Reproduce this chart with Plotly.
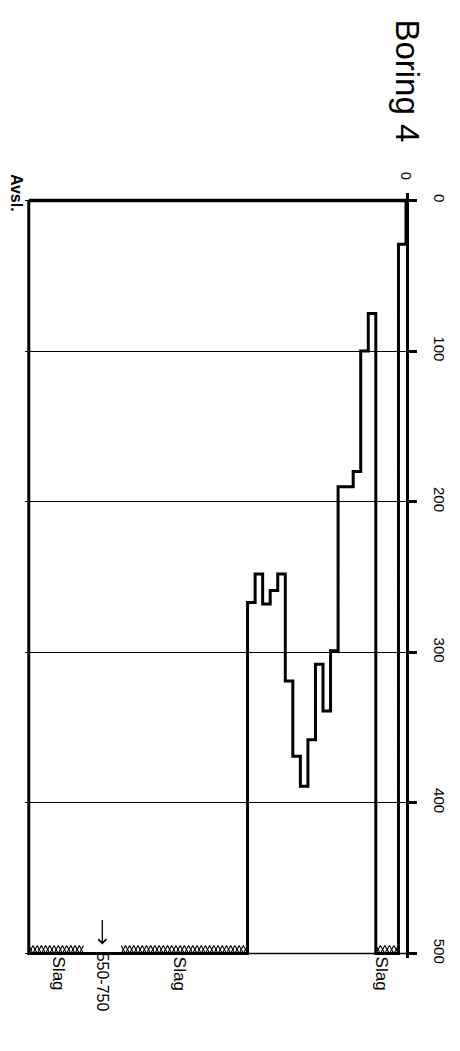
import numpy as np
import plotly.graph_objects as go

# ---- data ----
DEPTH_EDGES = [0, 0.2, 0.8, 1.0, 1.2, 1.4, 1.8, 2.0, 2.2, 2.4, 2.6, 2.8,
               3.0, 3.2, 3.4, 3.6, 3.8, 4.0, 4.2, 10.0]
LOAD_VALUES = [29, 500, 75, 100, 180, 190, 299, 339, 308, 358, 389, 369,
               319, 248, 259, 268, 248, 267, 500]
SLAG_START = [0.2, 4.2, 8.55]
SLAG_END = [0.8, 7.55, 10.0]
SLAG_LABEL_DEPTH = [0.64, 6.0, 9.2]
SLAG_LABEL = "Slag"
NOTE_DEPTH = 8.05
NOTE_TEXT = "550-750"
Y_TICKS = [0, 100, 200, 300, 400, 500]
DEPTH_TICKS = [0]
TITLE = "Boring 4"
END_LABEL = "Avsl."
DEPTH_END = DEPTH_EDGES[-1]
LOAD_MAX = 500

FONT = "Liberation Sans, Arial, sans-serif"

# ---- step curve built from the data ----
xs, ys = [0], [0]
for i, v in enumerate(LOAD_VALUES):
    xs += [DEPTH_EDGES[i], DEPTH_EDGES[i + 1]]
    ys += [v, v]
xs.append(DEPTH_END)   # termination line ("Avsl.")
ys.append(0)

fig = go.Figure()

# hatch for "Slag" intervals (two out-of-phase zigzags)
hx, hy = [], []
HATCH_H = 5.3
PERIOD = 0.22
for a, b in zip(SLAG_START, SLAG_END):
    n = max(2, int(round((b - a) / PERIOD * 2)))
    px = np.linspace(a, b, n + 1)
    for phase in (0, 1):
        py = [LOAD_MAX - HATCH_H * ((k + phase) % 2) for k in range(n + 1)]
        hx += list(px) + [None]
        hy += py + [None]
fig.add_trace(go.Scatter(x=hx, y=hy, mode="lines",
                         line=dict(color="black", width=1.1),
                         hoverinfo="skip"))

fig.add_trace(go.Scatter(x=xs, y=ys, mode="lines",
                         line=dict(color="black", width=3),
                         hoverinfo="skip"))

# frame: top border and bottom line
fig.add_shape(type="line", x0=DEPTH_END, x1=0, y0=0, y1=0,
              line=dict(color="black", width=3.5))
fig.add_shape(type="line", x0=DEPTH_END, x1=0, y0=LOAD_MAX, y1=LOAD_MAX,
              line=dict(color="black", width=1.5))

# labels
for d in SLAG_LABEL_DEPTH:
    fig.add_annotation(x=d, y=LOAD_MAX, text=SLAG_LABEL,
                       textangle=90, showarrow=False, xanchor="center",
                       yanchor="top", yshift=-1,
                       font=dict(family=FONT, size=17, color="black"))
fig.add_annotation(x=NOTE_DEPTH, y=LOAD_MAX, text=NOTE_TEXT, textangle=90,
                   showarrow=False, xanchor="center", yanchor="top", yshift=3,
                   font=dict(family=FONT, size=16, color="black"))
fig.add_annotation(x=NOTE_DEPTH, y=LOAD_MAX - 6, text="", showarrow=True,
                   ax=0, ay=-26, arrowhead=4, arrowsize=1.2, arrowwidth=1.3,
                   arrowcolor="black")
fig.add_annotation(xref="paper", yref="paper", x=-0.021, y=1.0,
                   text=END_LABEL, textangle=90, showarrow=False,
                   xanchor="center", yanchor="middle",
                   font=dict(family="Liberation Sans, Arial", size=16,
                             color="black", weight="bold"))
fig.add_annotation(xref="paper", yref="paper", x=1.005, y=1.146, text=TITLE,
                   textangle=90, showarrow=False,
                   xanchor="center", yanchor="middle",
                   font=dict(family=FONT, size=33, color="black"))

fig.update_layout(
    width=460, height=1051,
    margin=dict(l=17, r=62, t=185, b=101),
    plot_bgcolor="white", paper_bgcolor="white",
    showlegend=False,
    xaxis=dict(range=[10.1, 0], side="top", tickvals=DEPTH_TICKS,
               ticktext=[str(t) for t in DEPTH_TICKS], tickangle=90,
               showgrid=False, zeroline=False, showline=False, ticks="",
               ticklabelstandoff=10,
               tickfont=dict(family=FONT, size=14, color="black")),
    yaxis=dict(range=[503, -5], side="right", tickvals=Y_TICKS, tickangle=90,
               showline=True, linewidth=3, linecolor="black",
               ticks="outside", ticklen=8, tickwidth=2.5, tickcolor="black",
               ticklabelstandoff=11,
               showgrid=True, gridcolor="black", gridwidth=1, zeroline=False,
               tickfont=dict(family=FONT, size=15, color="black")),
)

fig.write_html("out.html")
